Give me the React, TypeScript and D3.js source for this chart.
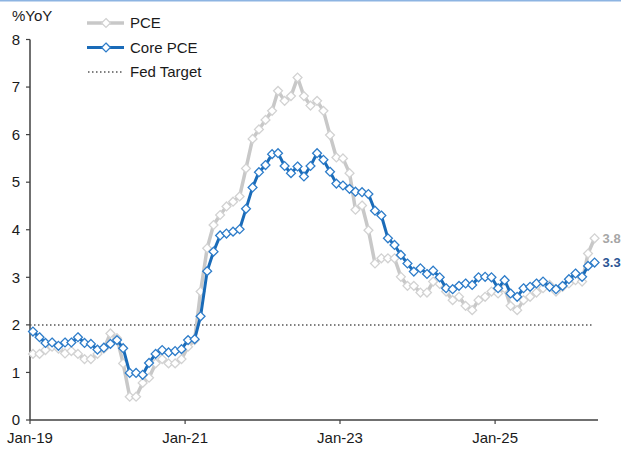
import React from 'react';
import * as d3 from 'd3';

// monthly YoY %, Jan-2019 .. Apr-2026
const pce = [
  1.39, 1.39, 1.47, 1.54, 1.50, 1.40, 1.45, 1.39, 1.28, 1.28, 1.39, 1.50,
  1.82, 1.72, 1.19, 0.49, 0.49, 0.78, 0.89, 1.19, 1.28, 1.19, 1.19, 1.28,
  1.54, 1.68, 2.70, 3.61, 4.10, 4.31, 4.49, 4.59, 4.70, 5.29, 5.91, 6.11,
  6.31, 6.50, 6.92, 6.71, 6.81, 7.20, 6.81, 6.61, 6.71, 6.50, 5.99, 5.52,
  5.50, 5.19, 4.42, 4.51, 3.99, 3.29, 3.40, 3.40, 3.40, 3.01, 2.82, 2.82,
  2.68, 2.68, 2.91, 2.86, 2.70, 2.52, 2.59, 2.40, 2.31, 2.52, 2.59, 2.70,
  2.66, 2.77, 2.40, 2.31, 2.52, 2.59, 2.68, 2.77, 2.84, 2.70, 2.80, 2.87,
  2.94, 2.91, 3.50, 3.82,
];
const corePce = [
  1.86, 1.74, 1.62, 1.63, 1.56, 1.63, 1.63, 1.74, 1.62, 1.60, 1.48, 1.52,
  1.60, 1.68, 1.51, 0.99, 0.99, 0.95, 1.20, 1.39, 1.47, 1.42, 1.45, 1.49,
  1.68, 1.70, 2.18, 3.13, 3.54, 3.88, 3.92, 3.96, 4.01, 4.44, 4.89, 5.21,
  5.36, 5.59, 5.61, 5.34, 5.19, 5.33, 5.12, 5.34, 5.61, 5.47, 5.22, 4.97,
  4.93, 4.86, 4.80, 4.79, 4.75, 4.40, 4.30, 3.82, 3.68, 3.47, 3.29, 3.12,
  3.19, 3.07, 3.14, 3.00, 2.77, 2.75, 2.82, 2.87, 2.84, 3.00, 3.01, 3.00,
  2.77, 2.94, 2.66, 2.59, 2.77, 2.80, 2.87, 2.91, 2.80, 2.75, 2.82, 2.96,
  3.08, 3.01, 3.24, 3.31,
];
const fedTarget = 2;
const dates = pce.map((_, i) => new Date(2019, i, 15));
const xTicks = [new Date(2019, 0, 1), new Date(2021, 0, 1), new Date(2023, 0, 1), new Date(2025, 0, 1)];
const yTicks = [0, 1, 2, 3, 4, 5, 6, 7, 8];
const legendItems = ['PCE', 'Core PCE', 'Fed Target'];

const W = 621;
const H = 449;
const font = 'Arial, "Liberation Sans", sans-serif';
const GRAY = '#c8c8c8';
const GRAY_MK = '#d2d2d2';
const BLUE = '#1a6bb8';
const BLUE_MK = '#2d7cc9';
const AXIS = '#404040';

const App = () => {
  // axis box
  const x = d3.scaleTime().domain([new Date(2019, 0, 1), new Date(2026, 4, 1)]).range([30, 598]);
  const y = d3.scaleLinear().domain([0, 8]).range([420, 39.5]);

  const line = d3.line<number>()
    .x((_, i) => x(dates[i]))
    .y((d) => y(d));
  const diamond = d3.symbol(d3.symbolDiamond2, 50)();
  const fmt = d3.timeFormat('%b-%y');
  const last = pce.length - 1;

  const series = [
    { name: legendItems[0], values: pce, color: GRAY, mk: GRAY_MK, width: 3.5, label: '#a6a6a6' },
    { name: legendItems[1], values: corePce, color: BLUE, mk: BLUE_MK, width: 3, label: '#2b5594' },
  ];

  return (
    <svg width={W} height={H} style={{ position: 'absolute', left: 0, top: 0, background: '#fff' }}
      fontFamily={font}>
      <line x1={0} x2={W} y1={0.5} y2={0.5} stroke="#8db4e2" strokeWidth={2} />

      {/* y axis */}
      <line x1={30} x2={30} y1={y(8)} y2={y(0)} stroke={AXIS} strokeWidth={1.5} />
      {yTicks.map((t) => (
        <g key={t}>
          <line x1={26} x2={30} y1={y(t)} y2={y(t)} stroke={AXIS} strokeWidth={1.2} />
          <text x={20} y={y(t)} dy="0.35em" textAnchor="end" fontSize={15} fill="#1a1a1a">{t}</text>
        </g>
      ))}
      <text x={12} y={21} fontSize={15} fill="#1a1a1a">%YoY</text>

      {/* x axis */}
      <line x1={30} x2={598} y1={y(0)} y2={y(0)} stroke={AXIS} strokeWidth={1.5} />
      {xTicks.map((t) => (
        <g key={+t}>
          <line x1={x(t)} x2={x(t)} y1={y(0)} y2={y(0) + 4} stroke={AXIS} strokeWidth={1.2} />
          <text x={x(t)} y={443} textAnchor="middle" fontSize={15} fill="#1a1a1a">{fmt(t)}</text>
        </g>
      ))}

      {/* fed target */}
      <line x1={30} x2={x(dates[last]) - 2} y1={y(fedTarget)} y2={y(fedTarget)}
        stroke="#555" strokeWidth={1.5} strokeDasharray="1.5,2.5" />

      {series.map((s) => (
        <g key={s.name}>
          <path d={line(s.values) || ''} fill="none" stroke={s.color} strokeWidth={s.width} strokeLinejoin="round" />
          {s.values.map((v, i) => (
            <path key={i} d={diamond || ''} transform={`translate(${x(dates[i])},${y(v)})`}
              fill="#fff" stroke={s.mk} strokeWidth={1.3} />
          ))}
          <text x={x(dates[last]) + 8} y={y(s.values[last])} dy="0.35em" fontSize={13}
            fontWeight="bold" fill={s.label}>{s.values[last].toFixed(1)}</text>
        </g>
      ))}

      {/* legend */}
      {legendItems.map((name, i) => {
        const ly = 23 + i * 24.5;
        return (
          <g key={name}>
            {i < 2 ? (
              <>
                <line x1={87} x2={124} y1={ly} y2={ly} stroke={series[i].color} strokeWidth={series[i].width} />
                <path d={diamond || ''} transform={`translate(106,${ly})`} fill="#fff" stroke={series[i].mk} strokeWidth={1.3} />
              </>
            ) : (
              <line x1={88} x2={124} y1={ly} y2={ly} stroke="#555" strokeWidth={1.5} strokeDasharray="1.5,2.5" />
            )}
            <text x={130} y={ly} dy="0.35em" fontSize={15} fill="#1a1a1a">{name}</text>
          </g>
        );
      })}
    </svg>
  );
};

export default App;
